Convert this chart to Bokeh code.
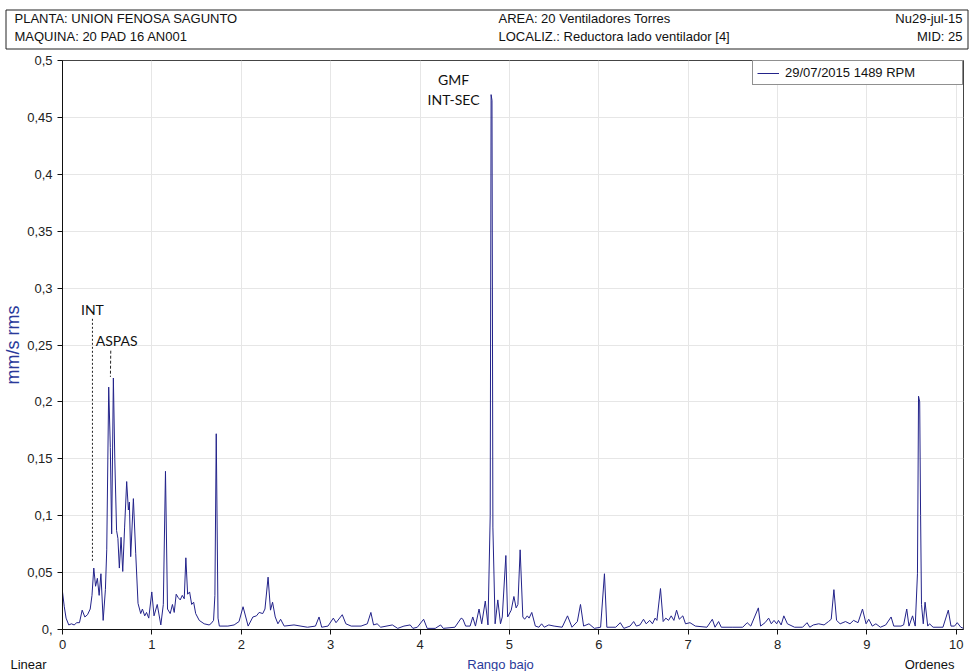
from bokeh.plotting import figure
from bokeh.layouts import column
from bokeh.models import Range1d, FixedTicker, Legend
from bokeh.core.properties import value
from bokeh.embed import file_html
from bokeh.resources import INLINE

# ---------------- data ----------------
orders = [0.0, 0.02, 0.04, 0.07, 0.1, 0.13, 0.16, 0.19, 0.22, 0.25, 0.28, 0.31, 0.33, 0.35, 0.37, 0.39,
          0.41, 0.43, 0.455, 0.48, 0.495, 0.517, 0.535, 0.55, 0.569, 0.585, 0.605, 0.62, 0.636, 0.655,
          0.674, 0.695, 0.718, 0.737, 0.748, 0.763, 0.793, 0.819, 0.845, 0.875, 0.894, 0.92, 0.94, 0.965,
          0.999, 1.024, 1.06, 1.1, 1.128, 1.152, 1.175, 1.205, 1.23, 1.25, 1.272, 1.295, 1.317, 1.34,
          1.362, 1.38, 1.4, 1.422, 1.445, 1.467, 1.49, 1.53, 1.585, 1.64, 1.66, 1.69, 1.705, 1.72, 1.74,
          1.755, 1.85, 1.92, 1.975, 2.02, 2.077, 2.13, 2.17, 2.2, 2.24, 2.265, 2.3, 2.327, 2.35, 2.38,
          2.41, 2.44, 2.48, 2.59, 2.74, 2.83, 2.87, 2.9, 2.97, 3.03, 3.06, 3.13, 3.17, 3.23, 3.34, 3.41,
          3.45, 3.48, 3.52, 3.56, 3.69, 3.75, 3.82, 3.89, 3.92, 3.97, 4.04, 4.08, 4.17, 4.23, 4.26, 4.39,
          4.46, 4.48, 4.51, 4.56, 4.59, 4.62, 4.66, 4.69, 4.73, 4.76, 4.785, 4.795, 4.805, 4.815, 4.84,
          4.87, 4.9, 4.92, 4.96, 4.98, 5.02, 5.05, 5.075, 5.095, 5.12, 5.15, 5.17, 5.2, 5.22, 5.25, 5.29,
          5.33, 5.36, 5.39, 5.44, 5.5, 5.59, 5.65, 5.7, 5.76, 5.795, 5.83, 5.89, 5.95, 6.02, 6.063, 6.09,
          6.19, 6.24, 6.28, 6.35, 6.39, 6.42, 6.46, 6.5, 6.53, 6.57, 6.6, 6.63, 6.65, 6.69, 6.72, 6.75,
          6.78, 6.81, 6.84, 6.87, 6.9, 6.94, 6.97, 7.02, 7.08, 7.21, 7.27, 7.3, 7.34, 7.37, 7.5, 7.61,
          7.66, 7.7, 7.785, 7.81, 7.86, 7.9, 7.93, 7.96, 7.99, 8.01, 8.04, 8.07, 8.11, 8.19, 8.28, 8.33,
          8.36, 8.4, 8.46, 8.52, 8.57, 8.6, 8.63, 8.66, 8.7, 8.76, 8.81, 8.85, 8.9, 8.95, 8.99, 9.02,
          9.06, 9.1, 9.15, 9.21, 9.27, 9.3, 9.38, 9.41, 9.445, 9.47, 9.51, 9.54, 9.565, 9.577, 9.59, 9.6,
          9.61, 9.63, 9.65, 9.68, 9.7, 9.74, 9.85, 9.91, 9.94, 9.98, 10.01, 10.05, 10.08]
amplitude = [0.033, 0.02, 0.01, 0.004, 0.005, 0.004, 0.006, 0.006, 0.017, 0.011, 0.013, 0.018, 0.03, 0.054,
             0.038, 0.045, 0.03, 0.049, 0.008, 0.035, 0.07, 0.213, 0.16, 0.084, 0.221, 0.15, 0.087, 0.08,
             0.054, 0.081, 0.051, 0.09, 0.13, 0.105, 0.112, 0.064, 0.115, 0.067, 0.023, 0.014, 0.018, 0.012,
             0.015, 0.01, 0.033, 0.012, 0.022, 0.004, 0.022, 0.139, 0.018, 0.014, 0.022, 0.015, 0.031, 0.028,
             0.026, 0.03, 0.027, 0.063, 0.031, 0.033, 0.022, 0.024, 0.014, 0.008, 0.005, 0.004, 0.005, 0.008,
             0.03, 0.172, 0.01, 0.003, 0.003, 0.004, 0.007, 0.02, 0.003, 0.011, 0.012, 0.015, 0.014, 0.018,
             0.046, 0.017, 0.024, 0.011, 0.005, 0.009, 0.003, 0.004, 0.002, 0.003, 0.011, 0.002, 0.003, 0.01,
             0.006, 0.013, 0.005, 0.003, 0.003, 0.005, 0.015, 0.004, 0.005, 0.002, 0.004, 0.001, 0.003, 0.004,
             0.001, 0.002, 0.009, 0.001, 0.001, 0.004, 0.001, 0.002, 0.01, 0.009, 0.003, 0.003, 0.011, 0.003,
             0.018, 0.005, 0.025, 0.004, 0.1, 0.47, 0.465, 0.09, 0.005, 0.026, 0.005, 0.011, 0.065, 0.011,
             0.017, 0.029, 0.019, 0.022, 0.07, 0.011, 0.009, 0.012, 0.01, 0.015, 0.003, 0.002, 0.005, 0.002,
             0.004, 0.003, 0.002, 0.012, 0.002, 0.007, 0.022, 0.003, 0.005, 0.001, 0.002, 0.049, 0.002, 0.002,
             0.006, 0.001, 0.003, 0.007, 0.003, 0.004, 0.009, 0.005, 0.008, 0.005, 0.01, 0.008, 0.036, 0.007,
             0.01, 0.008, 0.012, 0.008, 0.017, 0.009, 0.012, 0.005, 0.006, 0.003, 0.002, 0.009, 0.002, 0.007,
             0.002, 0.002, 0.002, 0.006, 0.003, 0.019, 0.003, 0.006, 0.01, 0.005, 0.008, 0.005, 0.008, 0.004,
             0.012, 0.005, 0.002, 0.002, 0.006, 0.002, 0.004, 0.005, 0.004, 0.007, 0.009, 0.035, 0.008, 0.005,
             0.007, 0.005, 0.008, 0.006, 0.018, 0.005, 0.009, 0.003, 0.005, 0.002, 0.004, 0.011, 0.003, 0.003,
             0.004, 0.018, 0.003, 0.012, 0.003, 0.049, 0.205, 0.2, 0.1, 0.022, 0.005, 0.024, 0.003, 0.005,
             0.002, 0.002, 0.017, 0.003, 0.003, 0.006, 0.002, 0.001]

series_label = "29/07/2015 1489 RPM"

y_ticks = [0.0, 0.05, 0.1, 0.15, 0.2, 0.25, 0.3, 0.35, 0.4, 0.45, 0.5]
y_tick_labels = ["0,", "0,05", "0,1", "0,15", "0,2", "0,25", "0,3", "0,35", "0,4", "0,45", "0,5"]
x_ticks = [0, 1, 2, 3, 4, 5, 6, 7, 8, 9, 10]

header_left = ["PLANTA: UNION FENOSA SAGUNTO", "MAQUINA: 20 PAD 16 AN001"]
header_mid = ["AREA: 20 Ventiladores Torres", "LOCALIZ.: Reductora lado ventilador [4]"]
header_right = ["Nu29-jul-15", "MID: 25"]
footer_texts = ["Linear", "Rango bajo", "Ordenes"]
y_title = "mm/s rms"
annot_gmf = ["GMF", "INT-SEC"]

SANS = "Liberation Sans"
BLUE = "#2a3a9a"
LINE = "#23238a"
W = 970


def no_align(fig):
    try:
        fig.frame_align = False
    except Exception:
        pass


def blank_panel(height):
    f = figure(width=W, height=height, x_range=Range1d(0, W), y_range=Range1d(height, 0),
               output_backend="svg", toolbar_location=None, x_axis_type=None, y_axis_type=None,
               min_border_left=0, min_border_right=0, min_border_top=0, min_border_bottom=0)
    f.grid.visible = False
    f.outline_line_color = None
    no_align(f)
    return f


# ---------------- header ----------------
header = blank_panel(52)
header.quad(left=[5.5], right=[967.5], top=[9.5], bottom=[48.5],
            fill_color=None, line_color="#222222", line_width=1)
header.text(x=[14, 14], y=[18, 36], text=header_left, text_baseline="middle",
            text_font=value(SANS), text_font_size="13px", text_color="#111111")
header.text(x=[498, 498], y=[18, 36], text=header_mid, text_baseline="middle",
            text_font=value(SANS), text_font_size="13px", text_color="#111111")
header.text(x=[962, 962], y=[18, 36], text=header_right, text_baseline="middle", text_align="right",
            text_font=value(SANS), text_font_size="13px", text_color="#111111")

# ---------------- main chart ----------------
p = figure(width=W, height=602, x_range=Range1d(0, 10.08), y_range=Range1d(0, 0.5),
           output_backend="svg", toolbar_location=None,
           min_border_left=62, min_border_right=7, min_border_top=8, min_border_bottom=25)
no_align(p)
p.outline_line_color = "#444444"

r = p.line(orders, amplitude, line_color=LINE, line_width=1)

legend = Legend(items=[(series_label, [r])], location="top_right", margin=0, padding=4,
                glyph_width=22, glyph_height=12, label_standoff=6, label_width=173, label_height=12,
                spacing=0, border_line_color="#222222", border_line_width=1,
                label_text_font=SANS, label_text_font_size="13px", label_text_color="#111111",
                background_fill_alpha=1.0)
p.add_layout(legend)

p.yaxis.ticker = FixedTicker(ticks=y_ticks)
p.yaxis.major_label_overrides = dict(zip(y_ticks, y_tick_labels))
p.xaxis.ticker = FixedTicker(ticks=x_ticks)
for ax in (p.xaxis, p.yaxis):
    ax.axis_line_color = "#111111"
    ax.major_tick_line_color = "#111111"
    ax.major_tick_out = 5
    ax.major_tick_in = 0
    ax.minor_tick_line_color = None
    ax.major_label_text_font = SANS
    ax.major_label_text_font_size = "13px"
    ax.major_label_text_color = "#222222"
p.yaxis.major_label_standoff = 5
p.xaxis.major_label_standoff = 5
p.yaxis.axis_label = y_title
p.yaxis.axis_label_text_font = SANS
p.yaxis.axis_label_text_font_size = "18px"
p.yaxis.axis_label_text_font_style = "normal"
p.yaxis.axis_label_text_color = BLUE
p.yaxis.axis_label_standoff = 1

p.grid.grid_line_color = "#e6e6e6"
p.xgrid.ticker = FixedTicker(ticks=x_ticks)
p.ygrid.ticker = FixedTicker(ticks=y_ticks)

p.text(x=[4.375, 4.375], y=[0.4833, 0.4658], text=annot_gmf, text_align="center",
       text_baseline="middle", text_font=value("Lato"), text_font_size="14px", text_color="#111111")
p.text(x=[0.335], y=[0.2814], text=["INT"], text_align="center", text_baseline="middle",
       text_font=value("Lato"), text_font_size="14px", text_color="#111111")
p.text(x=[0.605], y=[0.2536], text=["ASPAS"], text_align="center", text_baseline="middle",
       text_font=value("Lato"), text_font_size="14px", text_color="#111111")
p.line([0.335, 0.335], [0.273, 0.06], line_color="#222222", line_width=1, line_dash="2 2")
p.line([0.54, 0.536], [0.245, 0.222], line_color="#222222", line_width=1, line_dash="3 2")

# ---------------- footer ----------------
footer = blank_panel(17)
footer.text(x=[10], y=[10], text=[footer_texts[0]], text_baseline="middle",
            text_font=value(SANS), text_font_size="13px", text_color="#111111")
footer.text(x=[500], y=[10], text=[footer_texts[1]], text_baseline="middle", text_align="center",
            text_font=value(SANS), text_font_size="13px", text_color=BLUE)
footer.text(x=[954], y=[10], text=[footer_texts[2]], text_baseline="middle", text_align="right",
            text_font=value(SANS), text_font_size="13px", text_color="#111111")

layout = column(header, p, footer, spacing=0)
open("out.html", "w").write(file_html(layout, INLINE))
